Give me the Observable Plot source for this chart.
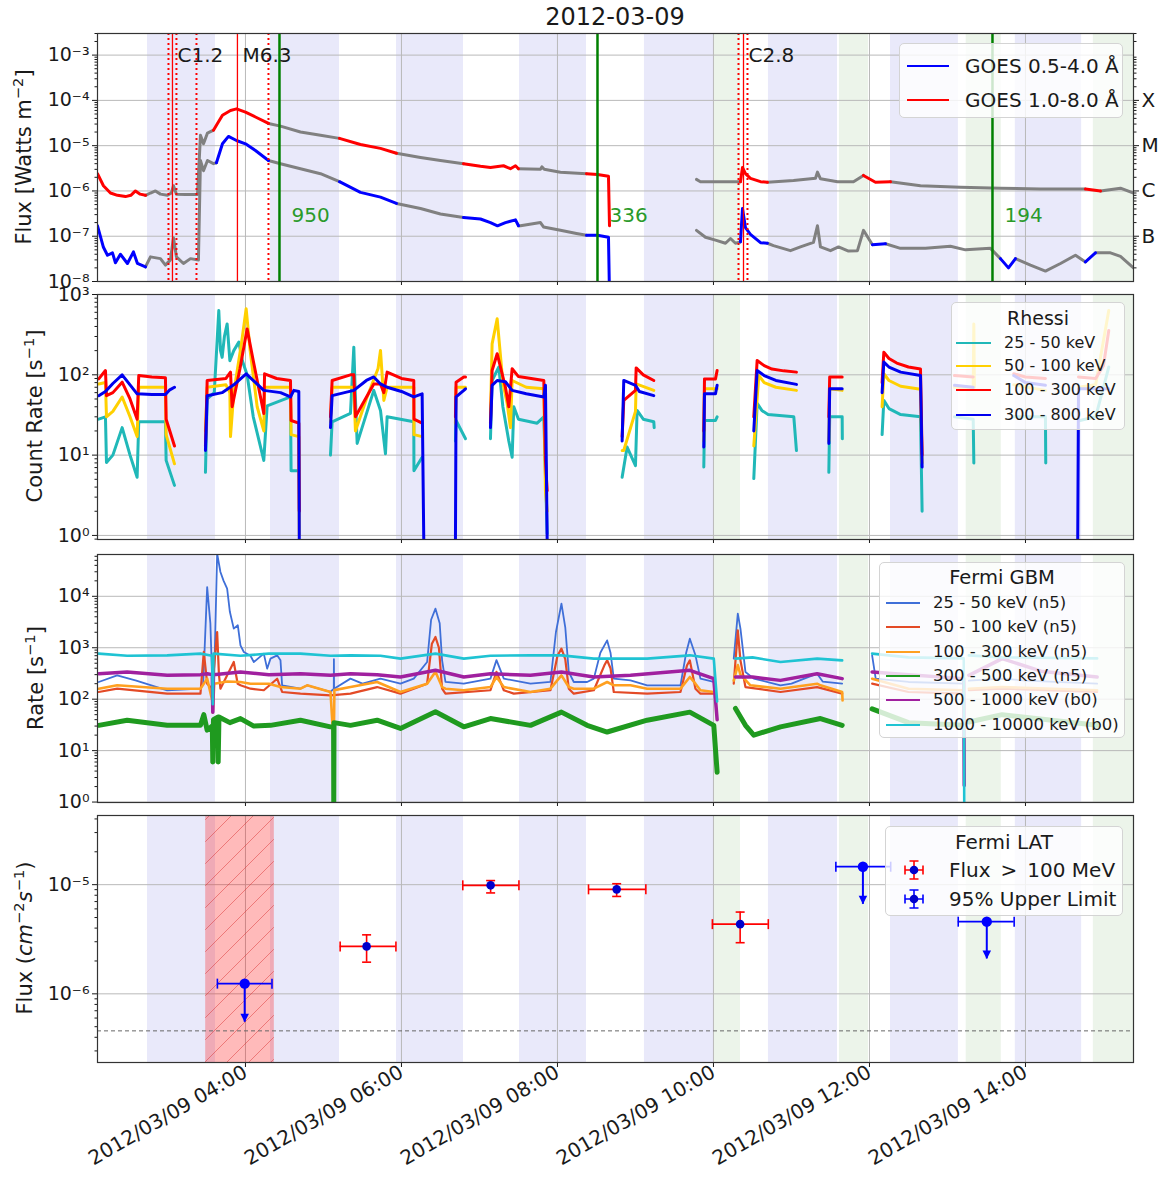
<!DOCTYPE html>
<html><head><meta charset="utf-8">
<script src="https://cdn.jsdelivr.net/npm/d3@7"></script>
<script src="https://cdn.jsdelivr.net/npm/@observablehq/plot@0.6"></script>
<style>
body{margin:0;background:#fff;}
#root{position:relative;width:1159px;height:1178px;font-family:"DejaVu Sans",sans-serif;color:#1a1a1a;overflow:hidden;background:#fff}
.leg{position:absolute;background:rgba(255,255,255,0.8);border:1px solid #d4d4d4;border-radius:5px;box-sizing:border-box}
.sw{position:absolute;height:0}
.lt{position:absolute;white-space:nowrap;line-height:1;transform:translateY(-50%)}
.ttl{position:absolute;white-space:nowrap;line-height:1;transform:translate(-50%,-50%)}
.yl{position:absolute;white-space:nowrap;line-height:1;transform:translate(-50%,-50%) rotate(-90deg);font-size:21px}
sup{font-size:0.7em;vertical-align:0.5em;line-height:0}
</style></head>
<body><div id="root"></div>
<script>
// ---------------- data ----------------
const xDomainHours = [2.103, 15.385];
const xTickHours = [4, 6, 8, 10, 12, 14];
const lavenderBands = [[2.744,3.615],[4.321,5.205],[5.936,6.795],[7.513,8.372],[9.115,10.0],[10.705,11.59],[12.27,13.14],[13.87,14.72]];
const greenBands = [[10.013,10.346],[11.615,11.987],[13.24,13.69],[14.87,15.385]];

// GOES 1.0-8.0 A (hour, W/m^2)
const goesLong = [[2.103,2.4e-6],[2.179,1.3e-6],[2.269,9e-7],[2.359,8e-7],[2.462,7.5e-7],[2.53,8e-7],[2.59,1.0e-6],[2.65,8.5e-7],[2.718,8e-7],[2.782,9e-7],[2.846,1.0e-6],[2.91,8.5e-7],[3.0,8e-7],[3.05,9e-7],[3.077,1.3e-6],[3.115,8.5e-7],[3.231,8.3e-7],[3.385,8.3e-7],[3.423,1.7e-5],[3.462,1.1e-5],[3.513,1.9e-5],[3.59,2.2e-5],[3.641,3.1e-5],[3.705,4.7e-5],[3.808,6e-5],[3.885,6.5e-5],[4.0,5.5e-5],[4.128,4.3e-5],[4.295,3.1e-5],[4.449,2.7e-5],[4.705,2.0e-5],[4.962,1.7e-5],[5.205,1.45e-5],[5.474,1.06e-5],[5.731,8.7e-6],[5.936,6.8e-6],[6.244,5.5e-6],[6.5,4.7e-6],[6.795,4.0e-6],[7.013,3.5e-6],[7.141,3.3e-6],[7.308,3.6e-6],[7.397,3.1e-6],[7.462,3.6e-6],[7.5,3.1e-6],[7.782,3.0e-6],[7.8,3.4e-6],[7.83,3.0e-6],[8.038,2.6e-6],[8.372,2.4e-6],[8.513,2.3e-6],[8.654,2.1e-6],[8.667,1.7e-7],null,
[9.782,1.8e-6],[9.833,1.6e-6],[10.154,1.6e-6],[10.346,1.6e-6],[10.372,3.3e-6],[10.41,2.4e-6],[10.474,1.9e-6],[10.603,1.6e-6],[10.692,1.55e-6],[11.026,1.7e-6],[11.308,1.9e-6],[11.333,2.6e-6],[11.372,1.85e-6],[11.59,1.6e-6],[11.795,1.6e-6],[11.923,2.2e-6],[12.077,1.55e-6],[12.269,1.6e-6],[12.654,1.3e-6],[13.167,1.2e-6],[13.679,1.15e-6],[14.192,1.1e-6],[14.769,1.1e-6],[14.962,1.0e-6],[15.218,1.15e-6],[15.385,9e-7]];
// GOES 0.5-4.0 A
const goesShort = [[2.103,1.7e-7],[2.179,5.7e-8],[2.231,3.8e-8],[2.295,4.3e-8],[2.333,2.6e-8],[2.397,4e-8],[2.487,2.5e-8],[2.564,4.5e-8],[2.615,2.5e-8],[2.718,2.1e-8],[2.782,3.5e-8],[2.91,3.2e-8],[2.974,2.3e-8],[3.038,3.0e-8],[3.077,9.3e-8],[3.115,3.5e-8],[3.205,2.5e-8],[3.295,3.2e-8],[3.397,3.0e-8],[3.423,4.7e-6],[3.462,2.8e-6],[3.513,4.7e-6],[3.59,4.0e-6],[3.628,4.2e-6],[3.705,1.1e-5],[3.782,1.6e-5],[3.885,1.3e-5],[4.0,1.1e-5],[4.128,7.8e-6],[4.295,4.7e-6],[4.449,4.0e-6],[4.705,3.1e-6],[4.962,2.4e-6],[5.205,1.6e-6],[5.474,9.3e-7],[5.731,7.3e-7],[5.936,5.3e-7],[6.244,4.1e-7],[6.5,3.1e-7],[6.795,2.6e-7],[7.013,2.4e-7],[7.141,2.0e-7],[7.231,1.7e-7],[7.333,2.0e-7],[7.462,2.3e-7],[7.5,1.7e-7],[7.526,1.7e-7],[7.782,2.0e-7],[7.821,1.6e-7],[8.038,1.35e-7],[8.244,1.15e-7],[8.372,1.05e-7],[8.513,1.05e-7],[8.654,9.5e-8],[8.667,5e-9],null,
[9.782,1.35e-7],[9.897,9.5e-8],[10.026,8.2e-8],[10.154,7e-8],[10.218,8.9e-8],[10.282,7e-8],[10.346,7.5e-8],[10.372,4.1e-7],[10.41,1.55e-7],[10.474,1.1e-7],[10.603,7.2e-8],[10.692,7e-8],[10.769,6.2e-8],[10.987,4.8e-8],[11.115,5.8e-8],[11.282,7.3e-8],[11.333,1.7e-7],[11.372,5.8e-8],[11.5,4.8e-8],[11.603,5.8e-8],[11.731,4.7e-8],[11.846,4.8e-8],[11.923,1.35e-7],[12.038,6.5e-8],[12.205,6.8e-8],[12.397,5.4e-8],[12.718,5.4e-8],[13.038,6e-8],[13.231,5e-8],[13.551,5.4e-8],[13.679,3.2e-8],[13.782,2e-8],[13.872,3.2e-8],[14.064,2.3e-8],[14.256,1.7e-8],[14.449,2.5e-8],[14.641,3.8e-8],[14.769,2.7e-8],[14.897,4.3e-8],[15.09,4.3e-8],[15.218,3.6e-8],[15.385,2e-8]];
const flareStart = [3.013, 3.372, 10.321];
const flarePeak = [3.064, 3.897, 10.385];
const flareEnd = [3.115, 4.295, 10.436];
const flareClass = ["C1.2", "M6.3", "C2.8"];
const cmeTime = [4.436, 8.513, 13.577];
const cmeSpeed = ["950", "336", "194"];
const goesClassTicks = [1e-4, 1e-5, 1e-6, 1e-7];
const goesClassLabels = ["X", "M", "C", "B"];
const goesLegend = ["GOES 0.5-4.0 Å", "GOES 1.0-8.0 Å"];

// RHESSI count rates (hour, counts/s); null = data gap
const rhessi25 = [[2.119,28],[2.205,30],[2.218,8.1],[2.30,10],[2.419,22],[2.52,10],[2.611,5.3],[2.632,26],[2.974,26],[2.983,8.6],[3.09,4.2],null,
[3.487,6.1],[3.509,50],[3.60,60],[3.658,630],[3.68,200],[3.701,165],[3.73,300],[3.765,430],[3.80,150],[3.85,200],[3.915,256],[3.96,150],[4.021,100],[4.10,30],[4.235,8.6],[4.278,41],[4.577,53],[4.585,6.4],[4.684,6.4],null,
[5.09,10],[5.111,26],[5.346,33],[5.389,221],[5.41,50],[5.432,14],[5.645,64],[5.731,36],[5.795,10.4],[5.816,30],[6.158,26],[6.16,6.4],[6.265,9.4],null,
[6.692,15],[6.70,27],[6.821,16],null,
[7.141,16],[7.162,85],[7.248,125],[7.30,40],[7.376,15],[7.419,9.4],[7.44,40],[7.5,28],[7.739,25],[7.825,30],[7.868,1.05],null,
[8.829,5.3],[8.893,12.6],[9.0,7.4],[9.021,36],[9.1,28],[9.235,26],[9.24,22],null,
[9.876,7.1],[9.885,27],[10.026,27],[10.047,30],null,
[10.517,5.1],[10.56,44],[10.62,36],[10.7,32],[11.03,30],[11.064,11.4],null,
[11.479,6.1],[11.49,30],[11.65,30],[11.652,16],null,
[12.162,18],[12.184,48],[12.25,38],[12.4,32],[12.654,30],[12.675,2.0],null,
[13.09,30],[13.33,28],[13.338,8],null,
[13.85,30],[14.256,30],[14.26,8],null,
[14.70,27],[14.9,30],[15.068,125]];
const rhessi50 = [[2.119,77],[2.205,80],[2.218,30],[2.30,35],[2.419,53],[2.52,30],[2.611,17],[2.632,70],[2.974,70],[2.983,18],[3.09,7.8],null,
[3.487,20],[3.509,70],[3.75,75],[3.80,60],[3.808,17],[3.85,60],[3.95,250],[4.009,664],[4.06,200],[4.15,40],[4.235,20],[4.245,70],[4.577,70],[4.585,18],[4.684,17],[4.69,1.0],null,
[5.09,26],[5.111,70],[5.389,70],[5.41,20],[5.55,50],[5.70,120],[5.731,201],[5.774,48],[5.816,70],[6.158,70],[6.16,18],[6.265,17],null,
[6.692,25],[6.70,70],[6.821,70],null,
[7.141,30],[7.162,243],[7.227,498],[7.30,80],[7.355,44],[7.397,22],[7.419,85],[7.6,70],[7.825,67],[7.846,3.6],[7.868,2.0],null,
[8.829,11.4],[8.85,11.4],[9.0,35],[9.009,77],[9.235,64],null,
[9.876,15],[9.885,67],[10.047,67],null,
[10.517,13],[10.581,98],[10.65,80],[10.8,70],[11.064,64],null,
[11.479,15],[11.49,67],[11.65,64],null,
[12.162,40],[12.184,103],[12.25,85],[12.4,72],[12.654,66],[12.675,8],null,
[13.09,70],[13.33,70],[13.338,430],[13.345,70],null,
[13.85,75],[14.256,64],null,
[14.68,70],[14.9,75],[15.068,632]];
const rhessi100 = [[2.119,89],[2.205,113],[2.218,55],[2.30,60],[2.419,81],[2.52,50],[2.611,28],[2.632,98],[2.8,94],[2.974,92],[2.983,28],[3.09,13],null,
[3.487,13],[3.509,85],[3.75,90],[3.808,108],[3.829,40],[3.93,120],[4.021,373],[4.10,150],[4.235,33],[4.245,103],[4.4,90],[4.577,85],[4.585,27],[4.684,25],[4.69,2.0],null,
[5.09,30],[5.111,85],[5.346,100],[5.389,100],[5.41,30],[5.645,77],[5.731,77],[5.774,60],[5.816,108],[6.0,90],[6.158,85],[6.16,28],[6.265,25],null,
[6.692,30],[6.70,81],[6.799,94],[6.821,94],null,
[7.141,25],[7.162,113],[7.227,183],[7.333,70],[7.376,40],[7.419,119],[7.5,95],[7.825,85],[7.846,8.6],[7.868,3.6],null,
[8.829,17],[8.85,48],[9.0,64],[9.009,122],[9.1,100],[9.235,85],null,
[9.876,20],[9.885,89],[10.026,89],[10.047,113],null,
[10.517,30],[10.56,151],[10.65,130],[10.75,118],[10.9,112],[11.064,108],null,
[11.479,30],[11.49,94],[11.65,94],null,
[12.162,80],[12.184,191],[12.25,160],[12.35,140],[12.5,125],[12.654,118],[12.675,10],null,
[13.09,98],[13.33,94],null,
[13.85,103],[14.0,94],[14.256,90],null,
[14.68,94],[14.9,90],[15.0,130],[15.068,357]];
const rhessi300 = [[2.119,55],[2.205,62],[2.30,78],[2.419,100],[2.52,75],[2.611,58],[2.8,57],[2.974,57],[3.03,65],[3.09,70],null,
[3.487,11.4],[3.509,55],[3.70,60],[3.85,75],[4.009,103],[4.13,80],[4.235,64],[4.45,60],[4.577,53],[4.62,64],[4.684,62],[4.69,0.85],null,
[5.09,22],[5.111,55],[5.389,64],[5.55,85],[5.645,94],[5.731,77],[5.816,70],[6.0,62],[6.158,53],[6.265,58],[6.286,0.85],null,
[6.692,0.85],[6.70,53],[6.799,64],[6.821,67],null,
[7.141,22],[7.162,74],[7.227,85],[7.333,82],[7.419,64],[7.6,58],[7.825,53],[7.846,74],[7.868,0.85],null,
[8.829,15],[8.85,85],[9.0,74],[9.05,62],[9.235,55],null,
[9.876,12.6],[9.885,58],[10.026,58],[10.047,74],null,
[10.517,20],[10.56,113],[10.65,98],[10.8,85],[11.064,76],null,
[11.479,14],[11.49,67],[11.65,67],null,
[12.162,60],[12.184,144],[12.25,125],[12.4,108],[12.654,98],[12.675,7.1],null,
[13.09,74],[13.33,70],null,
[13.85,98],[14.0,80],[14.256,74],null,
[14.67,0.85],[14.68,67],[15.068,67]];
const rhessiLabels = ["25 - 50 keV", "50 - 100 keV", "100 - 300 keV", "300 - 800 keV"];

// Fermi GBM rates (hour, counts/s)
const gbm25 = [[2.119,216],[2.355,291],[2.6,230],[2.996,149],[3.423,160],[3.458,200],[3.509,15100],[3.55,3000],[3.573,251],[3.60,300],[3.637,67600],[3.679,29700],[3.72,20000],[3.765,14100],[3.80,5000],[3.85,2350],[3.902,2730],[3.936,1110],[3.979,827],[4.064,700],[4.107,528],[4.235,768],[4.278,392],[4.321,614],[4.406,712],[4.449,569],[4.47,186],[4.705,160],[4.791,186],[5.09,138],[5.132,160],[5.134,600],[5.136,160],[5.346,251],[5.5,200],[5.731,251],[5.987,200],[6.158,251],[6.329,528],[6.38,3500],[6.436,5750],[6.49,3000],[6.521,569],[6.564,216],[6.799,200],[7.141,251],[7.218,575],[7.312,251],[7.654,200],[7.91,216],[7.98,2000],[8.051,7200],[8.10,2500],[8.145,338],[8.209,216],[8.38,216],[8.466,251],[8.55,800],[8.637,1390],[8.68,800],[8.722,251],[8.936,232],[9.15,186],[9.577,186],[9.65,800],[9.697,1500],[9.769,712],[9.833,251],[10.004,216],null,
[10.26,614],[10.312,4600],[10.346,2350],[10.41,338],[10.517,251],[10.859,186],[11.0,200],[11.329,313],[11.4,220],[11.65,200],null,
[12.034,712],[12.08,251],[12.5,216],[13.209,200],null,
[13.274,230],[13.701,251],[14.0,230],[14.919,200]];
const gbm50 = [[2.119,138],[2.355,160],[2.996,128],[3.423,128],[3.466,830],[3.509,200],[3.573,160],[3.637,2020],[3.66,300],[3.679,160],[3.85,528],[3.90,200],[3.936,186],[4.064,160],[4.235,149],[4.406,250],[4.47,138],[4.705,128],[5.09,119],[5.346,128],[5.688,172],[5.987,128],[6.329,200],[6.39,1200],[6.436,1620],[6.48,1000],[6.521,160],[6.564,128],[7.141,149],[7.218,340],[7.312,149],[7.44,128],[7.91,149],[8.0,700],[8.051,960],[8.10,600],[8.145,160],[8.209,128],[8.466,149],[8.60,450],[8.637,570],[8.68,400],[8.722,138],[9.15,128],[9.577,138],[9.66,450],[9.697,569],[9.769,160],[9.833,128],[10.004,128],null,
[10.26,200],[10.312,2180],[10.346,569],[10.41,172],[10.859,138],[11.329,172],[11.65,128],null,
[12.034,200],[12.5,138],[13.209,128],null,
[13.274,149],[13.701,160],[14.919,138]];
const gbm100 = [[2.119,160],[2.355,186],[2.996,160],[3.423,160],[3.509,251],[3.573,95],[3.581,55],[3.60,200],[3.765,220],[3.936,216],[4.064,200],[4.3,200],[4.449,172],[4.705,160],[4.791,186],[5.09,138],[5.132,12.7],[5.14,150],[5.346,172],[5.688,216],[5.987,138],[6.329,200],[6.436,340],[6.521,172],[6.564,160],[6.799,149],[7.141,172],[7.218,270],[7.312,172],[7.654,138],[7.91,160],[8.051,290],[8.145,172],[8.209,160],[8.466,160],[8.637,216],[8.722,186],[8.936,186],[9.15,160],[9.577,160],[9.697,270],[9.769,200],[9.833,149],[10.004,138],null,
[10.26,230],[10.312,460],[10.346,300],[10.474,186],[10.859,160],[11.329,200],[11.372,186],[11.65,138],[11.655,95],null,
[12.034,250],[12.5,160],[13.209,149],null,
[13.274,160],[13.701,172],[14.919,149]];
const gbm300 = [[2.119,31],[2.483,39],[2.996,31],[3.423,31],[3.466,50],[3.509,25],[3.575,30],[3.581,6],[3.59,40],[3.645,45],[3.65,6],[3.66,45],[3.80,35],[3.936,42],[4.107,30],[4.321,31],[4.705,39],[5.09,29],[5.13,30],[5.132,1],[5.135,35],[5.346,31],[5.688,39],[5.987,27],[6.436,57],[6.799,29],[7.141,42],[7.654,31],[8.051,56],[8.38,31],[8.637,23],[9.15,39],[9.697,56],[10.004,31],[10.047,3.8],null,
[10.282,66],[10.41,31],[10.517,20],[10.859,29],[11.372,42],[11.65,31],null,
[12.034,65],[12.5,35],[13.209,31],null,
[13.274,36],[13.701,50],[14.919,31]];
const gbm500 = [[2.119,313],[2.483,338],[2.996,291],[3.423,300],[3.509,313],[3.575,300],[3.581,56],[3.59,300],[3.936,338],[4.3,300],[4.705,313],[5.09,291],[5.346,313],[5.688,300],[5.987,270],[6.436,364],[6.799,270],[7.141,313],[7.654,291],[8.051,338],[8.466,270],[8.936,291],[9.697,364],[10.004,251],[10.047,40],null,
[10.282,270],[10.5,270],[10.859,232],[11.329,313],[11.65,251],null,
[12.034,338],[12.5,300],[13.209,251],[13.215,2.1],null,
[13.274,291],[13.701,614],[14.2,350],[14.919,270]];
const gbm1000 = [[2.119,768],[2.483,700],[2.996,712],[3.423,768],[3.573,700],[3.581,80],[3.59,768],[3.936,700],[4.3,768],[4.705,768],[5.09,700],[5.346,712],[5.731,700],[5.987,614],[6.436,768],[6.799,614],[7.141,700],[7.654,712],[8.051,712],[8.466,614],[9.15,614],[9.697,712],[10.004,614],[10.047,90],null,
[10.282,614],[10.5,650],[10.859,528],[11.329,614],[11.65,569],null,
[12.034,768],[12.5,650],[13.209,620],[13.215,1],null,
[13.274,712],[13.701,650],[14.919,620]];
const gbmLabels = ["25 - 50 keV (n5)", "50 - 100 keV (n5)", "100 - 300 keV (n5)", "300 - 500 keV (n5)", "500 - 1000 keV (b0)", "1000 - 10000 keV (b0)"];

// Fermi LAT: [center h, start h, end h, flux, low, high]
const latDetections = [[5.553,5.214,5.929,2.72e-6,1.95e-6,3.47e-6],[7.143,6.786,7.506,9.86e-6,8.4e-6,1.09e-5],[8.759,8.398,9.133,9.06e-6,7.8e-6,1.02e-5],[10.342,9.986,10.703,4.35e-6,2.94e-6,5.61e-6]];
// upper limits: [center h, start h, end h, UL, arrow tip]
const latUpperLimits = [[3.99,3.64,4.34,1.24e-6,5.5e-7],[11.916,11.569,12.272,1.46e-5,6.6e-6],[13.504,13.138,13.855,4.58e-6,2.09e-6]];
const latRedBand = [[3.49, 4.37]];
const latThreshold = [4.58e-7];
const latLegend = ["Flux\u2002>\u2002100 MeV", "95% Upper Limit"];

// ---------------- helpers ----------------
const FONT = "DejaVu Sans";
const W = 1159, ML = 97, MR = 26;
const T0 = Date.UTC(2012, 2, 9);
const T = h => new Date(T0 + h * 3600e3);
const xTicks = xTickHours.map(T);
const GRID = "#b9b9b9", LAV = "#e9e9fa", GRN = "#ecf4ea", GRAY = "#808080";
const root = document.getElementById("root");

const SUP = {"-":"⁻","0":"⁰","1":"¹","2":"²","3":"³","4":"⁴","5":"⁵","6":"⁶","7":"⁷","8":"⁸","9":"⁹"};
const pow10 = d => "10" + String(Math.round(Math.log10(d))).split("").map(c => SUP[c]).join("");
function majorTicks([lo, hi]) { const o = []; for (let e = Math.ceil(Math.log10(lo) - 1e-9); e <= Math.floor(Math.log10(hi) + 1e-9); e++) o.push(Math.pow(10, e)); return o; }
function minorTicks([lo, hi]) { const o = []; for (let e = Math.floor(Math.log10(lo)); e <= Math.floor(Math.log10(hi)); e++) for (let k = 2; k <= 9; k++) { const v = k * Math.pow(10, e); if (v >= lo && v <= hi) o.push(v); } return o; }
function runs(series) { let seg = 0; const o = []; for (const p of series) { if (!p) { seg++; continue; } o.push({t: T(p[0]), v: p[1], seg}); } return o; }
const allBands = lavenderBands.concat(greenBands);
const inBand = h => allBands.some(([a, b]) => h >= a && h <= b);
function bandRuns(series, color) {
  const o = []; let seg = 0, prev = null;
  for (let i = 0; i < series.length - 1; i++) {
    const a = series[i], b = series[i + 1];
    if (!a || !b) { prev = null; continue; }
    const c = inBand((a[0] + b[0]) / 2) ? GRAY : color;
    if (c !== prev) { seg++; prev = c; o.push({t: T(a[0]), v: a[1], seg, c}); }
    o.push({t: T(b[0]), v: b[1], seg, c});
  }
  return o;
}
function background(yDomain) {
  return [
    Plot.rect(lavenderBands, {x1: d => T(d[0]), x2: d => T(d[1]), fill: LAV}),
    Plot.rect(greenBands, {x1: d => T(d[0]), x2: d => T(d[1]), fill: GRN}),
    Plot.gridX(xTicks, {stroke: GRID, strokeOpacity: 1, strokeWidth: 1}),
    Plot.gridY(majorTicks(yDomain), {stroke: GRID, strokeOpacity: 1, strokeWidth: 1})
  ];
}
function axes(yDomain, xLabels) {
  const m = [
    Plot.axisY({ticks: majorTicks(yDomain), tickFormat: pow10, tickSize: 5, tickPadding: 3, fontSize: 19}),
    Plot.axisY({ticks: minorTicks(yDomain), tickFormat: () => "", tickSize: 2.5})
  ];
  if (xLabels) m.push(Plot.axisX({ticks: xTicks, tickFormat: d3.utcFormat("%Y/%m/%d %H:%M"), tickSize: 5, tickPadding: 3, tickRotate: -30, textAnchor: "end", fontSize: 20}));
  else m.push(Plot.axisX({ticks: xTicks, tickFormat: () => "", tickSize: 4}));
  m.push(Plot.frame({stroke: "#333", strokeWidth: 1.2}));
  return m;
}
function panel(top, height, marginBottom, yDomain, marks) {
  const svg = Plot.plot({
    width: W, height, marginLeft: ML, marginRight: MR, marginTop: 10, marginBottom,
    style: {fontFamily: FONT, fontSize: "18px", color: "#1a1a1a", overflow: "visible", background: "transparent"},
    x: {type: "utc", domain: [T(xDomainHours[0]), T(xDomainHours[1])], label: null},
    y: {type: "log", domain: yDomain, label: null},
    marks
  });
  svg.style.position = "absolute"; svg.style.left = "0px"; svg.style.top = top + "px";
  root.appendChild(svg);
}

// ---------------- panel 1: GOES ----------------
const p1Domain = [1e-8, 3.0e-3];
const goesLines = [];
for (const [series, col] of [[goesLong, "#ff0000"], [goesShort, "#0000ff"]]) {
  const r = bandRuns(series, col);
  for (const c of [GRAY, col]) goesLines.push(Plot.line(r.filter(d => d.c === c), {x: "t", y: "v", z: "seg", stroke: c, strokeWidth: 3, clip: true}));
}
panel(23, 268, 10, p1Domain, [
  ...background(p1Domain),
  ...goesLines,
  Plot.ruleX(flareStart, {x: T, stroke: "red", strokeWidth: 2, strokeDasharray: "2,3"}),
  Plot.ruleX(flareEnd, {x: T, stroke: "red", strokeWidth: 2, strokeDasharray: "2,3"}),
  Plot.ruleX(flarePeak, {x: T, stroke: "red", strokeWidth: 1.3}),
  Plot.ruleX(cmeTime, {x: T, stroke: "green", strokeWidth: 2.5}),
  Plot.text(flarePeak, {x: T, y: () => 1e-3, text: (d, i) => flareClass[i], textAnchor: "start", dx: 5, fontSize: 20, fill: "#1a1a1a"}),
  Plot.text(cmeTime, {x: T, y: () => 2.9e-7, text: (d, i) => cmeSpeed[i], textAnchor: "start", dx: 12, fontSize: 20, fill: "#2a9a2a"}),
  ...axes(p1Domain, false),
  Plot.axisY({anchor: "right", ticks: goesClassTicks, tickFormat: d => goesClassLabels[goesClassTicks.indexOf(d)], tickSize: 5, tickPadding: 3, fontSize: 20}),
  Plot.axisY({anchor: "right", ticks: minorTicks(p1Domain), tickFormat: () => "", tickSize: 2.5})
]);

// ---------------- panel 2: RHESSI ----------------
const p2Domain = [0.89, 1000];
const rhessiSeries = [[rhessi25, "#20b8b8"], [rhessi50, "#ffd000"], [rhessi100, "#ff0000"], [rhessi300, "#0000ee"]];
panel(284, 265, 10, p2Domain, [
  ...background(p2Domain),
  ...rhessiSeries.map(([s, c]) => Plot.line(runs(s), {x: "t", y: "v", z: "seg", stroke: c, strokeWidth: 3, clip: true})),
  ...axes(p2Domain, false)
]);

// ---------------- panel 3: GBM ----------------
const p3Domain = [0.98, 6.5e4];
const gbmSeries = [[gbm25, "#3f6fd8", 1.8], [gbm50, "#e34a26", 2.2], [gbm100, "#ffa020", 2.6], [gbm300, "#1f9a1f", 5], [gbm500, "#a0209f", 3.5], [gbm1000, "#1fc3d3", 2.6]];
panel(544, 268, 10, p3Domain, [
  ...background(p3Domain),
  ...gbmSeries.map(([s, c, w]) => Plot.line(runs(s), {x: "t", y: "v", z: "seg", stroke: c, strokeWidth: w, clip: true})),
  ...axes(p3Domain, false)
]);

// ---------------- panel 4: LAT ----------------
const p4Domain = [2.35e-7, 4.3e-5];
const r0 = s => Math.sqrt(s / Math.PI);
const vCap = {draw(ctx, s) { const r = r0(s); ctx.moveTo(0, -r); ctx.lineTo(0, r); }};
const hCap = {draw(ctx, s) { const r = r0(s); ctx.moveTo(-r, 0); ctx.lineTo(r, 0); }};
const downTri = {draw(ctx, s) { const r = r0(s); ctx.moveTo(0, 0); ctx.lineTo(-r * 0.85, -r * 1.7); ctx.lineTo(r * 0.85, -r * 1.7); ctx.closePath(); }};
const hatchDefs = () => {
  const g = document.createElementNS("http://www.w3.org/2000/svg", "defs");
  g.innerHTML = '<pattern id="hatch" patternUnits="userSpaceOnUse" width="22" height="22"><path d="M-11,11 L11,-11 M0,22 L22,0 M11,33 L33,11" stroke="rgba(215,40,40,0.45)" stroke-width="1"/></pattern>';
  return g;
};
const bx = d => T(d[0]);
panel(805, 373, 116, p4Domain, [
  hatchDefs,
  ...background(p4Domain),
  Plot.rect(latRedBand, {x1: d => T(d[0]), x2: d => T(d[1]), fill: "red", fillOpacity: 0.27}),
  Plot.rect(latRedBand, {x1: d => T(d[0]), x2: d => T(d[1]), fill: "url(#hatch)"}),
  Plot.ruleY(latThreshold, {stroke: "#666", strokeWidth: 1, strokeDasharray: "4,3"}),
  // detections
  Plot.ruleY(latDetections, {y: d => d[3], x1: d => T(d[1]), x2: d => T(d[2]), stroke: "red", strokeWidth: 1.6}),
  Plot.ruleX(latDetections, {x: bx, y1: d => d[4], y2: d => d[5], stroke: "red", strokeWidth: 1.6}),
  Plot.dot(latDetections, {x: d => T(d[1]), y: d => d[3], symbol: vCap, r: 5, stroke: "red", strokeWidth: 1.6, fill: "none"}),
  Plot.dot(latDetections, {x: d => T(d[2]), y: d => d[3], symbol: vCap, r: 5, stroke: "red", strokeWidth: 1.6, fill: "none"}),
  Plot.dot(latDetections, {x: bx, y: d => d[4], symbol: hCap, r: 4.5, stroke: "red", strokeWidth: 1.6, fill: "none"}),
  Plot.dot(latDetections, {x: bx, y: d => d[5], symbol: hCap, r: 4.5, stroke: "red", strokeWidth: 1.6, fill: "none"}),
  Plot.dot(latDetections, {x: bx, y: d => d[3], r: 4.3, fill: "#0000cc"}),
  // upper limits
  Plot.ruleY(latUpperLimits, {y: d => d[3], x1: d => T(d[1]), x2: d => T(d[2]), stroke: "blue", strokeWidth: 1.8}),
  Plot.dot(latUpperLimits, {x: d => T(d[1]), y: d => d[3], symbol: vCap, r: 5, stroke: "blue", strokeWidth: 1.6, fill: "none"}),
  Plot.dot(latUpperLimits, {x: d => T(d[2]), y: d => d[3], symbol: vCap, r: 5, stroke: "blue", strokeWidth: 1.6, fill: "none"}),
  Plot.ruleX(latUpperLimits, {x: bx, y1: d => d[3], y2: d => d[4], stroke: "blue", strokeWidth: 2}),
  Plot.dot(latUpperLimits, {x: bx, y: d => d[4], symbol: downTri, r: 5, fill: "blue", stroke: "none"}),
  Plot.dot(latUpperLimits, {x: bx, y: d => d[3], r: 5.2, fill: "blue"}),
  ...axes(p4Domain, true)
]);

// ---------------- HTML text: title, y labels, legends ----------------
function addDiv(cls, style, html) { const d = document.createElement("div"); d.className = cls; d.setAttribute("style", style); d.innerHTML = html; root.appendChild(d); return d; }
addDiv("ttl", "left:615px;top:17px;font-size:24px", "2012-03-09");
addDiv("yl", "left:24px;top:157px", "Flux [Watts m<sup>−2</sup>]");
addDiv("yl", "left:35px;top:416px", "Count Rate [s<sup>−1</sup>]");
addDiv("yl", "left:36px;top:678px", "Rate [s<sup>−1</sup>]");
addDiv("yl", "left:25px;top:938px", "Flux (<i>cm</i><sup>−2</sup><i>s</i><sup>−1</sup>)");

function legend({left, top, width, height, title, titleY, titleSize, labels, colors, rowY, swX, swW, textX, fontSize, marker}) {
  let html = "";
  if (title) html += `<div class="lt" style="left:0;width:100%;text-align:center;top:${titleY}px;font-size:${titleSize}px">${title}</div>`;
  labels.forEach((lab, i) => {
    if (marker) html += marker(colors[i], rowY[i]);
    else html += `<div class="sw" style="left:${swX}px;top:${rowY[i] - 1.25}px;width:${swW}px;border-top:2.5px solid ${colors[i]}"></div>`;
    html += `<div class="lt" style="left:${textX}px;top:${rowY[i]}px;font-size:${fontSize}px">${lab}</div>`;
  });
  addDiv("leg", `left:${left}px;top:${top}px;width:${width}px;height:${height}px`, html);
}
legend({left: 899, top: 43, width: 224, height: 75, labels: goesLegend, colors: ["#0000ff", "#ff0000"], rowY: [22, 56], swX: 7, swW: 42, textX: 65, fontSize: 20});
legend({left: 951, top: 302, width: 174, height: 128, title: "Rhessi", titleY: 15, titleSize: 19, labels: rhessiLabels, colors: rhessiSeries.map(d => d[1]), rowY: [40, 63, 87, 112], swX: 4, swW: 35, textX: 52, fontSize: 16});
legend({left: 879, top: 562, width: 246, height: 176, title: "Fermi GBM", titleY: 15, titleSize: 19.5, labels: gbmLabels, colors: gbmSeries.map(d => d[1]), rowY: [40, 64, 89, 113, 137, 162], swX: 6, swW: 34, textX: 53, fontSize: 16.5});
const latMarker = (c, y) => `<svg style="position:absolute;left:16px;top:${y - 12}px" width="24" height="24"><g stroke="${c}" stroke-width="1.6" fill="none"><path d="M3,12H21M3,7.5V16.5M21,7.5V16.5M12,3V21M7.5,3H16.5M7.5,21H16.5"/></g><circle cx="12" cy="12" r="4.3" fill="#0000cc"/></svg>`;
legend({left: 885, top: 826, width: 238, height: 90, title: "Fermi LAT", titleY: 15, titleSize: 20, labels: latLegend, colors: ["red", "blue"], rowY: [43, 72], textX: 63, fontSize: 20, marker: latMarker});
</script></body></html>
